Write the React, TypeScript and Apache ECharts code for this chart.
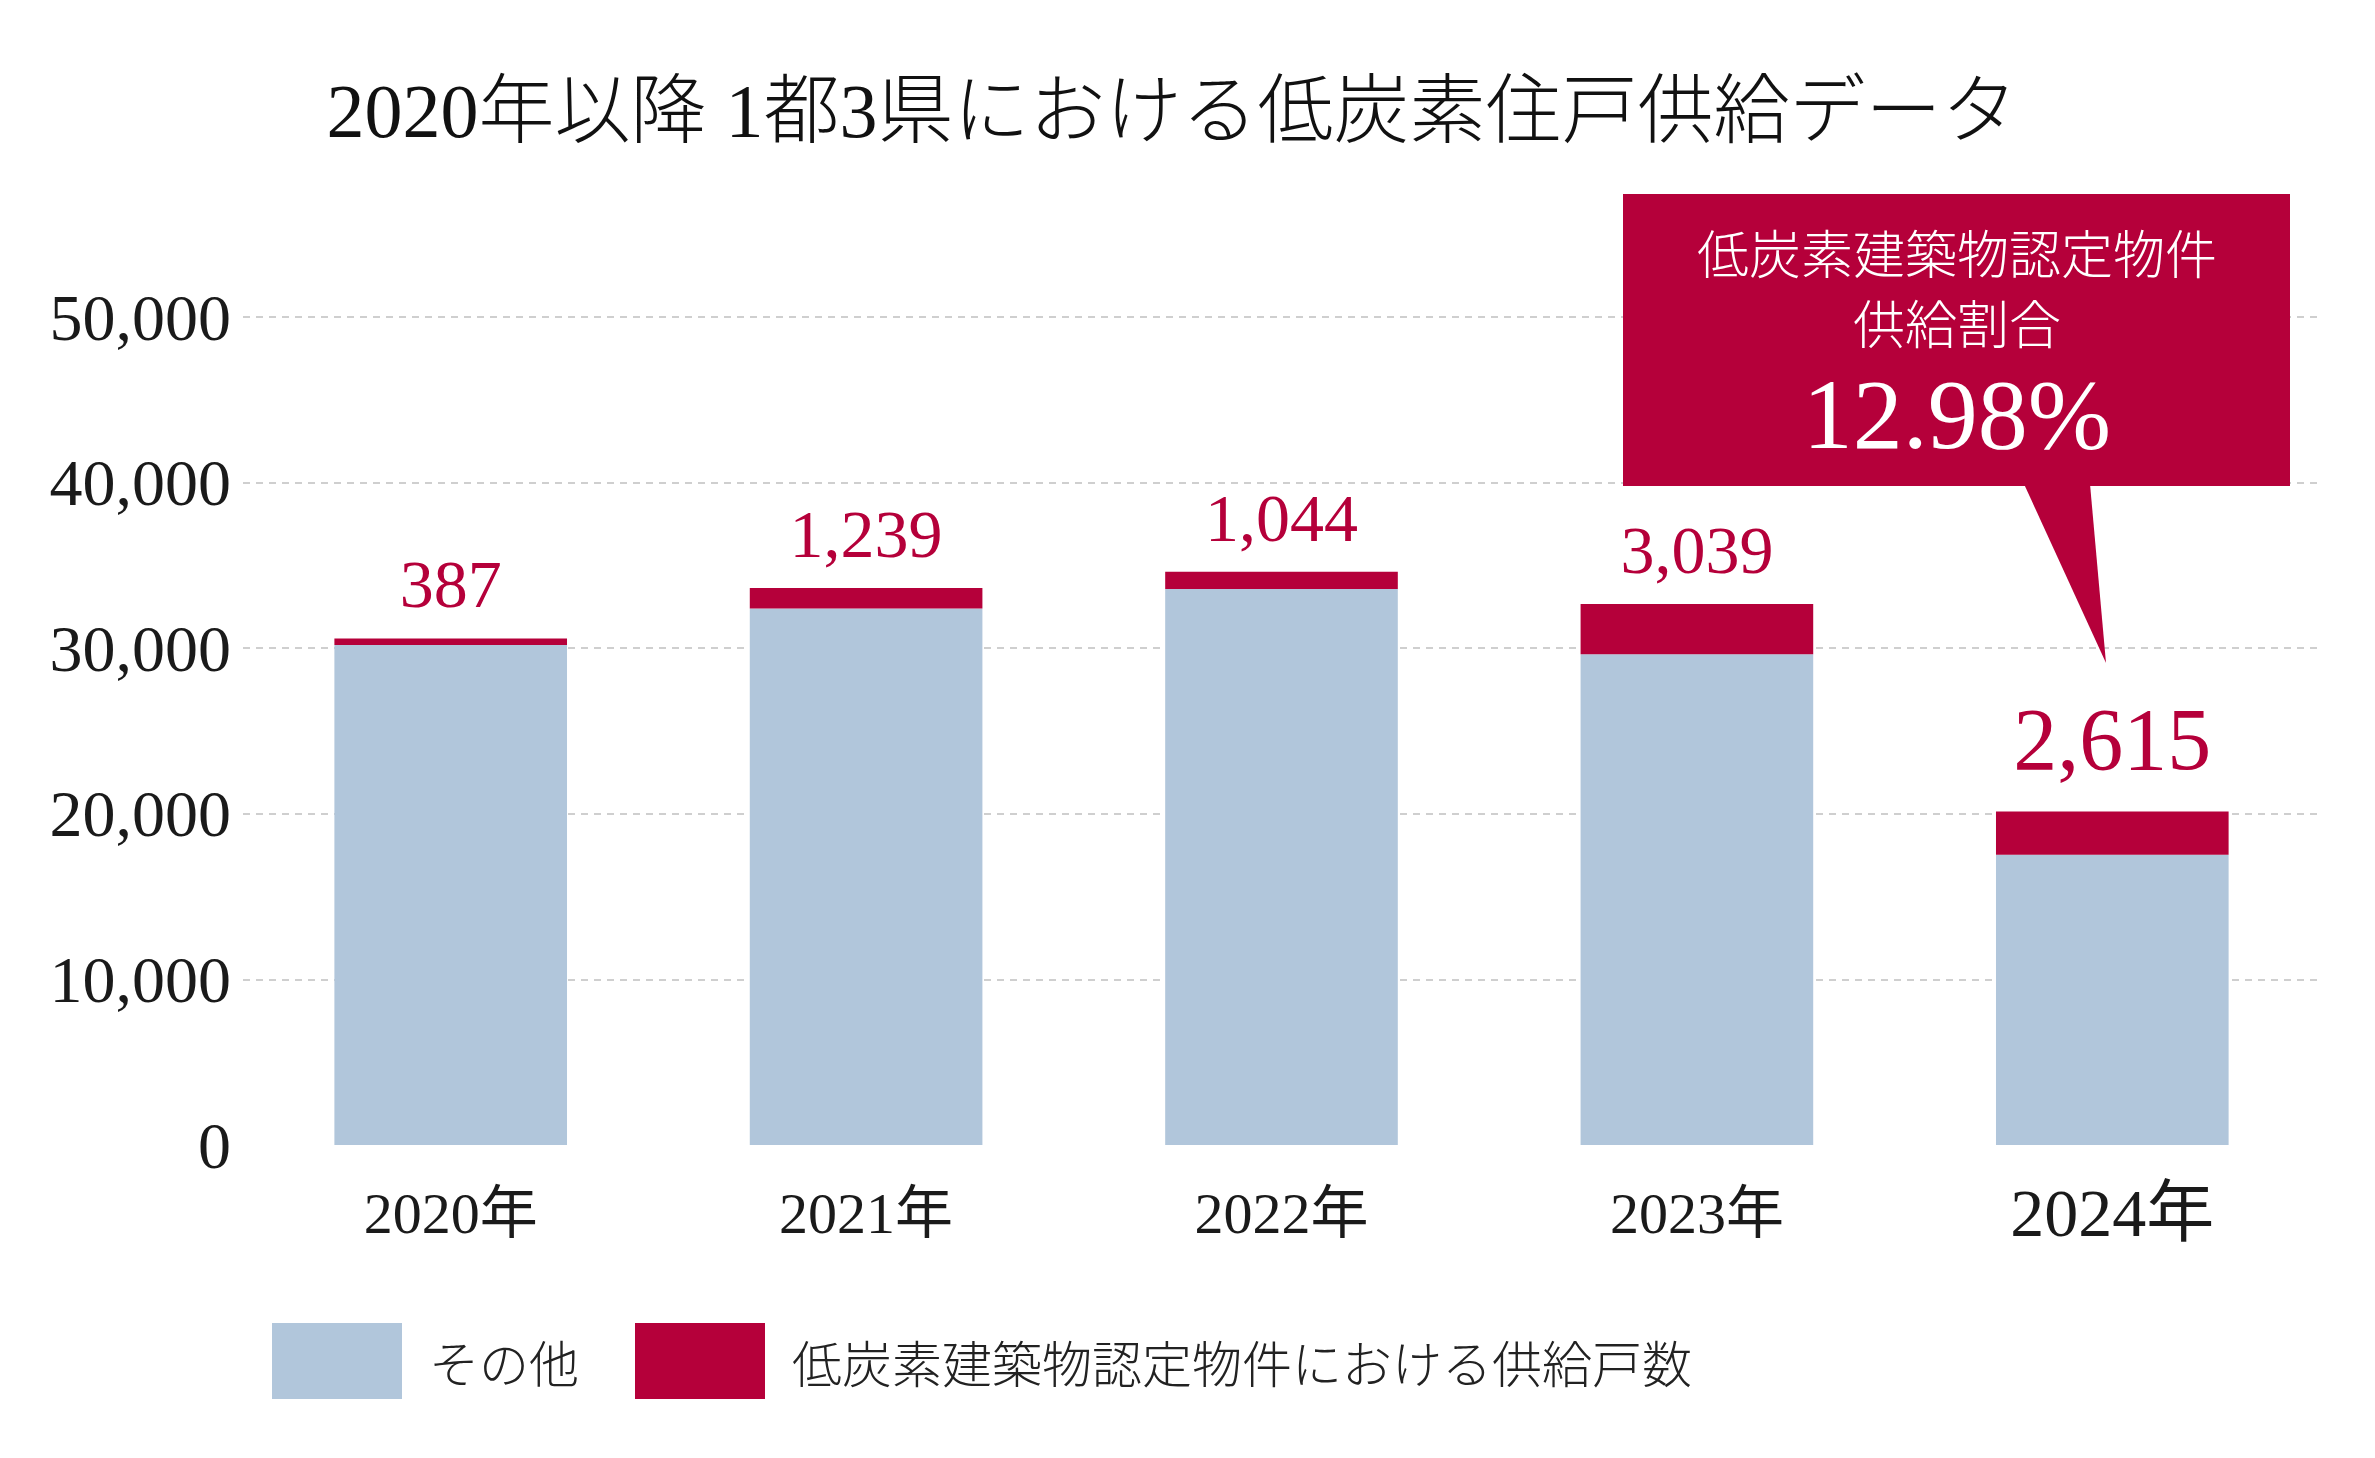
import React, { useEffect, useRef } from "react";
import * as echarts from "echarts";

const categories = ["2020年", "2021年", "2022年", "2023年", "2024年"];
const otherUnits = [30200, 32400, 33580, 29630, 17530];
const lowCarbonUnits = [387, 1239, 1044, 3039, 2615];
const yMin = 0;
const yMax = 50000;
const yInterval = 10000;
const titleText = "2020年以降 1都3県における低炭素住戸供給データ";
const legendNames = ["その他", "低炭素建築物認定物件における供給戸数"];
const calloutLines = ["低炭素建築物認定物件", "供給割合"];
const calloutValue = "12.98%";

const BLUE = "#B1C6DB";
const RED = "#B5003A";
const SERIF = "'Liberation Serif', 'Noto Sans CJK JP', serif";
const CJK = "'Noto Sans CJK JP', sans-serif";

export default function App() {
  const ref = useRef<HTMLDivElement>(null);
  useEffect(() => {
    if (!ref.current) return;
    const chart = echarts.init(ref.current, null, { renderer: "svg" });
    const option: any = {
      animation: false,
      backgroundColor: "#ffffff",
      grid: { left: 243, right: 55, top: 317, bottom: 313, containLabel: false },
      xAxis: {
        type: "category",
        data: categories,
        axisLine: { show: false },
        axisTick: { show: false },
        axisLabel: {
          margin: 33,
          formatter: (v: string, i: number) => (i === 4 ? `{big|${v}}` : `{n|${v}}`),
          rich: {
            n: { fontFamily: SERIF, fontSize: 58, lineHeight: 70, color: "#1a1a1a" },
            big: { fontFamily: SERIF, fontSize: 68, lineHeight: 70, color: "#1a1a1a" },
          },
        },
      },
      yAxis: {
        type: "value",
        min: yMin,
        max: yMax,
        interval: yInterval,
        axisLine: { show: false },
        axisTick: { show: false },
        axisLabel: {
          margin: 12,
          fontFamily: SERIF,
          fontSize: 66,
          color: "#1a1a1a",
          formatter: (v: number) => v.toLocaleString("en-US"),
        },
        splitLine: {
          show: true,
          showMinLine: false,
          lineStyle: { color: "#cfcfcf", width: 2, type: [7, 6] },
        },
      },
      legend: {
        data: legendNames,
        icon: "rect",
        itemWidth: 130,
        itemHeight: 76,
        itemGap: 56,
        left: 267,
        top: 1318,
        selectedMode: false,
        textStyle: {
          fontFamily: CJK,
          fontSize: 50,
          fontWeight: 300,
          color: "#222",
          padding: [0, 0, 0, 22],
        },
      },
      series: [
        {
          name: legendNames[0],
          type: "bar",
          stack: "total",
          barWidth: "56%",
          data: otherUnits,
          itemStyle: { color: BLUE },
        },
        {
          name: legendNames[1],
          type: "bar",
          stack: "total",
          barWidth: "56%",
          itemStyle: { color: RED },
          data: lowCarbonUnits.map((v, i) =>
            i === 4 ? { value: v, label: { fontSize: 88, distance: 28 } } : v
          ),
          label: {
            show: true,
            position: "top",
            distance: 20,
            fontFamily: SERIF,
            fontSize: 68,
            color: RED,
            formatter: (p: any) => Number(p.value).toLocaleString("en-US"),
          },
        },
      ],
      graphic: [
        {
          type: "text",
          x: 1172,
          y: 111,
          z: 100,
          style: {
            text: titleText,
            fontFamily: SERIF,
            fontSize: 76,
            fontWeight: 300,
            fill: "#111",
            align: "center",
            verticalAlign: "middle",
          },
        },
        {
          type: "group",
          z: 100,
          children: [
            {
              type: "rect",
              z: 100,
              shape: { x: 1623, y: 194, width: 667, height: 292 },
              style: { fill: RED },
            },
            {
              type: "polygon",
              z: 100,
              shape: { points: [[2024, 484], [2090, 484], [2106, 663]] },
              style: { fill: RED },
            },
            {
              type: "text",
              z: 101,
              x: 1957,
              y: 251,
              style: {
                text: calloutLines[0],
                fontFamily: CJK,
                fontSize: 52,
                fontWeight: 300,
                fill: "#ffffff",
                align: "center",
                verticalAlign: "middle",
              },
            },
            {
              type: "text",
              z: 101,
              x: 1957,
              y: 321,
              style: {
                text: calloutLines[1],
                fontFamily: CJK,
                fontSize: 52,
                fontWeight: 300,
                fill: "#ffffff",
                align: "center",
                verticalAlign: "middle",
              },
            },
            {
              type: "text",
              z: 101,
              x: 1957,
              y: 414,
              style: {
                text: calloutValue,
                fontFamily: SERIF,
                fontSize: 100,
                fill: "#ffffff",
                align: "center",
                verticalAlign: "middle",
              },
            },
          ],
        },
      ],
    };
    chart.setOption(option);
    return () => chart.dispose();
  }, []);
  return (
    <div
      ref={ref}
      style={{ position: "fixed", left: 0, top: 0, width: 2375, height: 1458 }}
    />
  );
}
